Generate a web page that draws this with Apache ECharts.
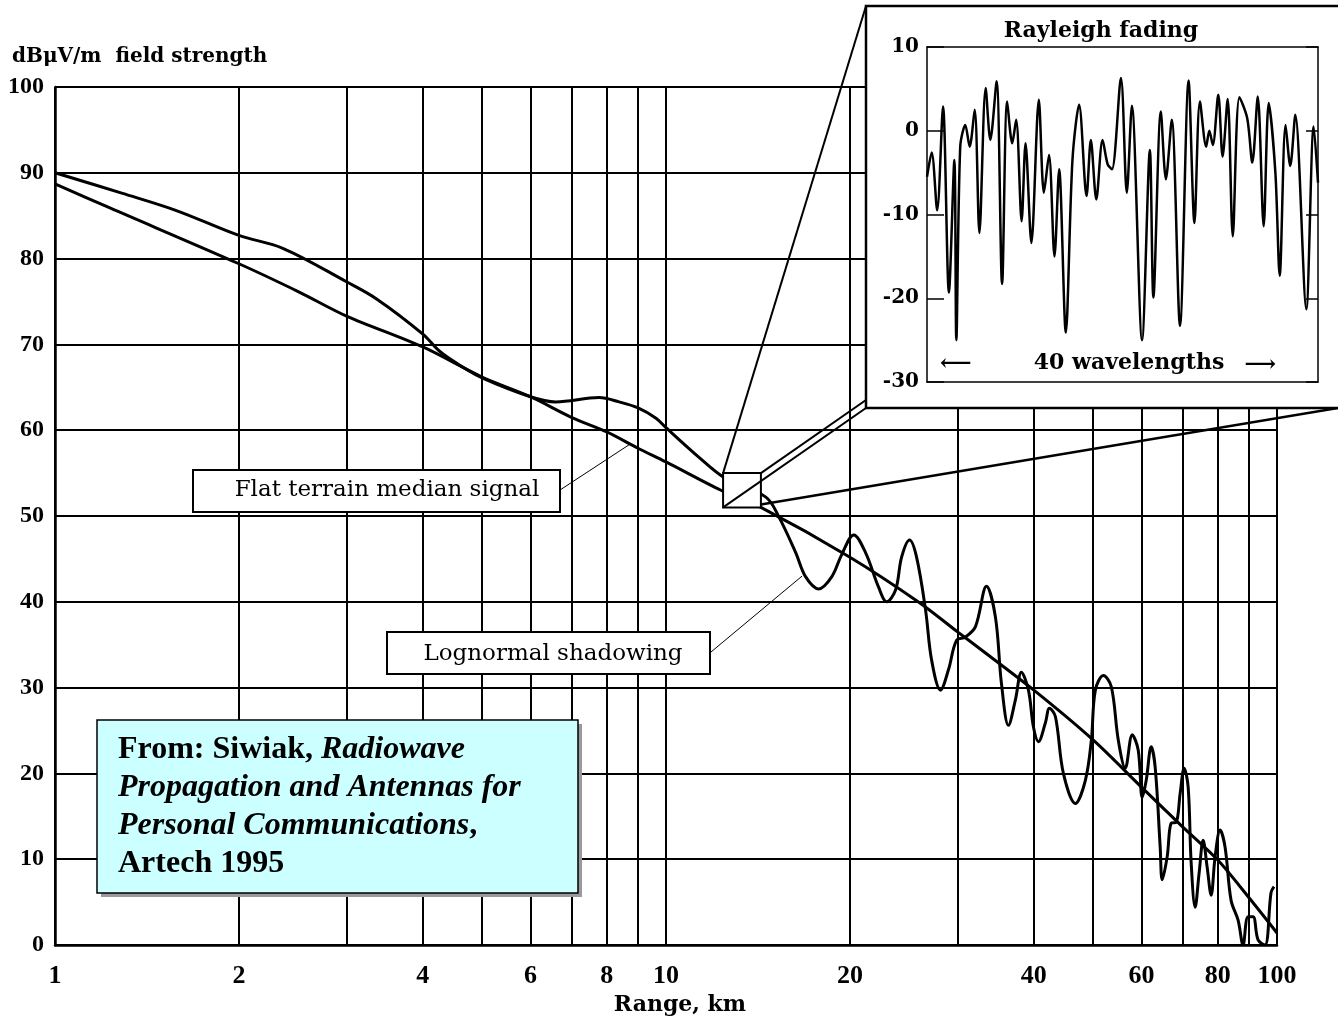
<!DOCTYPE html>
<html><head><meta charset="utf-8">
<script src="https://cdn.jsdelivr.net/npm/echarts@6/dist/echarts.min.js"></script>
<style>html,body{margin:0;padding:0;background:#fff}#c{width:1338px;height:1019px}</style>
</head><body><div id="c"></div>
<script>
// ---------- data ----------
const yTicksMain = [0, 10, 20, 30, 40, 50, 60, 70, 80, 90, 100];
const xGridKm = [1, 2, 3, 4, 5, 6, 7, 8, 9, 10, 20, 30, 40, 50, 60, 70, 80, 90, 100];
const xLabelKm = [1, 2, 4, 6, 8, 10, 20, 40, 60, 80, 100];

const medianKm = [1, 1.23, 2, 2.51, 3, 4, 5, 6, 7, 8, 9, 10, 12.3, 14.3, 20, 26, 30, 32.4, 40, 50, 60, 70, 80, 90, 100];
const medianDb = [88.7, 85.9, 79.4, 76.1, 73.3, 69.7, 66.2, 63.9, 61.5, 59.8, 57.9, 56.3, 53.0, 51.0, 45.2, 39.9, 36.5, 34.7, 29.7, 23.9, 18.4, 13.8, 9.9, 5.5, 1.4];

const shadowKm = [1, 1.29, 1.58, 2, 2.36, 3, 3.36, 4, 4.26, 4.59, 5, 6, 6.6, 7.77, 8.38, 9, 9.63, 10, 11.3, 12.5,
  14.57, 15.3, 16.31, 16.93, 17.78, 18.67, 19.39, 20.29, 21.22, 22.28, 22.97, 23.76, 24.3, 25.04, 25.71, 26.6, 27.21, 28.14, 29.0, 29.89,
  30.92, 32.1, 33.46, 34.61, 35.4, 36.35, 37.32, 38.17, 39.19, 39.94, 40.7, 41.78, 42.42, 43.39, 44.71, 46.77, 48.57, 49.68, 50.43, 51.97,
  53.56, 54.98, 56.45, 57.96, 59.28, 60.18, 61.09, 62.25, 63.19, 64.39, 64.88, 66.11, 67.11, 68.39, 69.43, 70.47, 71.55, 72.36, 73.46, 74.57,
  75.7, 76.85, 78.02, 79.2, 80.7, 82.23, 84.11, 86.36, 87.99, 89.66, 91.37, 93.11, 95.59, 97.77, 98.88];
const shadowDb = [90, 87.6, 85.6, 82.7, 81.2, 77.3, 75.3, 71.2, 69.2, 67.6, 66.1, 63.9, 63.3, 63.8, 63.3, 62.6, 61.4, 60.3, 56.9, 54.4,
  52.2, 49.9, 45.7, 42.9, 41.5, 42.9, 45.5, 47.8, 45.7, 41.7, 40.0, 41.4, 45.2, 47.2, 45.2, 39.0, 33.2, 29.7, 32.1, 35.5,
  35.9, 37.1, 41.8, 38.2, 30.5, 25.6, 28.6, 31.8, 29.7, 25.4, 23.7, 25.9, 27.6, 26.6, 20.0, 16.5, 19.2, 23.9, 29.7, 31.4,
  30.1, 23.9, 20.6, 24.5, 22.7, 17.2, 19.2, 23.1, 20.7, 11.4, 7.6, 10.3, 14.2, 14.3, 17.7, 20.6, 18.4, 9.6, 4.4, 8.4,
  12.2, 9.1, 5.8, 10.3, 13.4, 11.4, 5.2, 2.9, 0, 3.3, 3.3, 0.6, 0, 6.1, 6.8];

// Rayleigh fading inset: position across the 40-wavelength window (0-100 %) and level in dB
const fadePos = [0, 1.2, 2.6, 4.1, 5.6, 7.0, 7.5, 8.5, 9.8, 10.9, 12.2, 13.4, 15.0, 16.2, 17.8, 19.2, 20.5, 21.8, 22.8, 24.2,
  25.2, 26.7, 28.6, 29.9, 31.2, 32.6, 33.8, 35.5, 37.2, 38.9, 40.8, 41.9, 43.3, 44.9, 46.2, 47.3, 49.6, 51.1, 52.4, 55.0,
  57.0, 57.9, 59.8, 61.1, 62.6, 64.7, 66.9, 68.4, 69.8, 71.4, 72.2, 73.1, 74.5, 75.6, 76.9, 78.2, 79.9, 81.9, 83.2, 84.6,
  86.1, 87.4, 89.1, 90.2, 91.7, 92.9, 94.2, 97.0, 98.9, 100];
const fadeDb = [-5.5, -2.6, -9.5, 2.9, -19.3, -3.5, -25, -1.9, 0.7, -1.9, 2.5, -12.2, 5.1, -1.1, 5.9, -18.3, 3.5, -1.5, 1.3, -10.8,
  -1.5, -13.4, 3.7, -7.4, -2.9, -15, -4.6, -24.1, -3.5, 3.1, -7.8, -1.1, -8.2, -1.1, -4, -4.6, 6.3, -7.4, 3, -25,
  -2.3, -19.9, 2.3, -5.8, 1.3, -23.3, 6, -11, 3.5, -1.9, 0, -1.7, 4.3, -3.1, 3.8, -12.6, 4, 1.5, -3.8, 4.1,
  -11.4, 3.3, -5, -17.3, 0.7, -4.2, 1.9, -21.3, 0.5, -6.2];
const fadeTicks = [-30, -20, -10, 0, 10];

// magnified region (km range, dB range)
const zoomKm = [12.4, 14.3];
const zoomDb = [51, 55];
const medianPointer = [8.7, 58.3];
const shadowPointer = [16.7, 43.0];

// ---------- chart ----------
const LIB = '"Liberation Serif", serif';
const DJ = '"DejaVu Serif", serif';
const zip = (a, b) => a.map((v, i) => [v, b[i]]);

const chart = echarts.init(document.getElementById('c'));

const vLines = xGridKm.map(k => ({
  xAxis: k,
  label: { show: xLabelKm.indexOf(k) >= 0, formatter: String(k) }
}));

const option = {
  animation: false,
  backgroundColor: '#fff',
  grid: [
    { left: 55, right: 61, top: 87, bottom: 74 },
    { left: 927, top: 47, width: 391, height: 335 }
  ],
  xAxis: [
    { type: 'log', logBase: 10, min: 1, max: 100, gridIndex: 0,
      axisLine: { show: true, onZero: false, lineStyle: { color: '#000', width: 2.5 } },
      axisTick: { show: false }, axisLabel: { show: false }, splitLine: { show: false } },
    { type: 'value', gridIndex: 1, min: 0, max: 100, position: 'bottom', z: 60,
      axisLine: { show: true, onZero: false, lineStyle: { color: '#000', width: 1.5 } },
      axisTick: { show: false }, axisLabel: { show: false }, splitLine: { show: false } },
    { type: 'value', gridIndex: 1, min: 0, max: 100, position: 'top', z: 60,
      axisLine: { show: true, onZero: false, lineStyle: { color: '#000', width: 1.5 } },
      axisTick: { show: false }, axisLabel: { show: false }, splitLine: { show: false } }
  ],
  yAxis: [
    { type: 'value', gridIndex: 0, min: yTicksMain[0], max: yTicksMain[yTicksMain.length - 1], interval: 10,
      axisLine: { show: true, lineStyle: { color: '#000', width: 2.5 } },
      axisTick: { show: false },
      axisLabel: { color: '#000', fontFamily: LIB, fontWeight: 'bold', fontSize: 24, margin: 11 },
      splitLine: { show: true, lineStyle: { color: '#000', width: 2 } } },
    { type: 'value', gridIndex: 1, min: fadeTicks[0], max: fadeTicks[fadeTicks.length - 1], interval: 10, z: 60,
      axisLine: { show: true, onZero: false, lineStyle: { color: '#000', width: 1.5 } },
      axisTick: { show: true, inside: true, length: 17, lineStyle: { color: '#000', width: 1.5 } },
      axisLabel: { color: '#000', fontFamily: DJ, fontWeight: 'bold', fontSize: 20, margin: 8 },
      splitLine: { show: false } },
    { type: 'value', gridIndex: 1, min: fadeTicks[0], max: fadeTicks[fadeTicks.length - 1], interval: 10, z: 60,
      position: 'right',
      axisLine: { show: true, onZero: false, lineStyle: { color: '#000', width: 1.5 } },
      axisTick: { show: true, inside: true, length: 12, lineStyle: { color: '#000', width: 1.5 } },
      axisLabel: { show: false }, splitLine: { show: false } }
  ],
  series: [
    { name: 'Flat terrain median signal', type: 'line', xAxisIndex: 0, yAxisIndex: 0,
      data: zip(medianKm, medianDb), symbol: 'none', smooth: 0.3,
      lineStyle: { color: '#000', width: 3 },
      markLine: {
        silent: true, symbol: ['none', 'none'], animation: false,
        lineStyle: { color: '#000', width: 2, type: 'solid' },
        label: { position: 'start', distance: 18, color: '#000', fontFamily: LIB, fontWeight: 'bold', fontSize: 26 },
        emphasis: { disabled: true },
        data: vLines
      } },
    { name: 'Lognormal shadowing', type: 'line', xAxisIndex: 0, yAxisIndex: 0,
      data: zip(shadowKm, shadowDb), symbol: 'none', smooth: 0.35,
      lineStyle: { color: '#000', width: 3 } },
    { name: 'Rayleigh fading', type: 'line', xAxisIndex: 1, yAxisIndex: 1, z: 60,
      data: zip(fadePos, fadeDb), symbol: 'none', smooth: 0.3,
      lineStyle: { color: '#000', width: 2.5 },
      markLine: {
        silent: true, symbol: ['none', 'none'], animation: false,
        lineStyle: { color: '#000', width: 4, type: 'solid' }, label: { show: false },
        emphasis: { disabled: true },
        data: [{ yAxis: 0 }]
      } }
  ]
};
chart.setOption(option);

// ---------- annotations (computed through the chart's own scales) ----------
const P = (x, y) => chart.convertToPixel({ xAxisIndex: 0, yAxisIndex: 0 }, [x, y]);
const bTL = P(zoomKm[0], zoomDb[1]);
const bBR = P(zoomKm[1], zoomDb[0]);
const bTR = [bBR[0], bTL[1]];
const bBL = [bTL[0], bBR[1]];
const inset = { x: 866, y: 6, w: 476, h: 402 };
const mp = P(medianPointer[0], medianPointer[1]);
const sp = P(shadowPointer[0], shadowPointer[1]);

const Z = 50;
const line = (a, b, w) => ({ type: 'line', z: Z + 1, silent: true,
  shape: { x1: a[0], y1: a[1], x2: b[0], y2: b[1] }, style: { stroke: '#000', lineWidth: w } });
const txt = (x, y, s, font, align) => ({ type: 'text', z: Z + 12, silent: true, x: x, y: y,
  style: { text: s, font: font, fill: '#000', textAlign: align || 'left', verticalAlign: 'middle' } });

const elements = [
  // magnified box
  { type: 'rect', z: Z, silent: true, shape: { x: bTL[0], y: bTL[1], width: bBR[0] - bTL[0], height: bBR[1] - bTL[1] },
    style: { fill: '#fff', stroke: '#000', lineWidth: 2 } },
  line(bTL, [inset.x, inset.y], 2),
  line(bBL, [inset.x, inset.y + inset.h], 2),
  line(bTR, [inset.x, inset.y + inset.h - 8], 2),
  line([bBR[0], bBR[1] - 3], [1338, inset.y + inset.h], 2.5),
  // inset panel
  { type: 'rect', z: Z + 2, silent: true, shape: { x: inset.x, y: inset.y, width: inset.w, height: inset.h },
    style: { fill: '#fff', stroke: '#000', lineWidth: 2.5 } },
  txt(1101, 31, 'Rayleigh fading', 'bold 22px ' + DJ, 'center'),
  txt(1129, 363, '40 wavelengths', 'bold 22px ' + DJ, 'center'),
  txt(940, 364, '\u27f5', 'bold 22px ' + DJ, 'left'),
  txt(1276, 365, '\u27f6', 'bold 22px ' + DJ, 'right'),
  // label boxes + pointers
  line([560, 490], mp, 1),
  { type: 'rect', z: Z, silent: true, shape: { x: 193, y: 470, width: 367, height: 42 },
    style: { fill: '#fff', stroke: '#000', lineWidth: 2 } },
  txt(387, 490, 'Flat terrain median signal', '23px ' + DJ, 'center'),
  line([711, 652], sp, 1),
  { type: 'rect', z: Z, silent: true, shape: { x: 387, y: 632, width: 323, height: 42 },
    style: { fill: '#fff', stroke: '#000', lineWidth: 2 } },
  txt(553, 654, 'Lognormal shadowing', '23px ' + DJ, 'center'),
  // axis titles
  txt(12, 57, 'dB\u03bcV/m  field strength', 'bold 20px ' + DJ, 'left'),
  txt(680, 1005, 'Range, km', 'bold 22px ' + DJ, 'center'),
  // citation box with offset shadow
  { type: 'rect', z: Z, silent: true, shape: { x: 101, y: 724, width: 481, height: 173 },
    style: { fill: '#9a9a9a' } },
  { type: 'rect', z: Z + 1, silent: true, shape: { x: 97, y: 720, width: 481, height: 173 },
    style: { fill: '#ccffff', stroke: '#000', lineWidth: 1.5 } },
  { type: 'text', z: Z + 12, silent: true, x: 118, y: 731,
    style: {
      text: '{b|From: Siwiak, }{bi|Radiowave}\n{bi|Propagation and Antennas for}\n{bi|Personal Communications}{b|,}\n{b|Artech 1995}',
      fill: '#000', textAlign: 'left', verticalAlign: 'top',
      rich: {
        b: { fontFamily: LIB, fontWeight: 'bold', fontSize: 32, lineHeight: 38, fill: '#000' },
        bi: { fontFamily: LIB, fontWeight: 'bold', fontStyle: 'italic', fontSize: 32, lineHeight: 38, fill: '#000' }
      }
    } }
];
chart.setOption({ graphic: { elements: elements } });
</script>
</body></html>
